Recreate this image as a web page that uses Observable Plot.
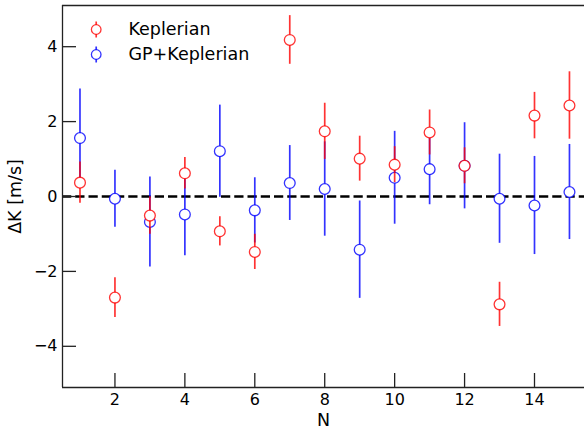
<!DOCTYPE html>
<html><head><meta charset="utf-8">
<script src="https://cdn.jsdelivr.net/npm/d3@7"></script>
<script src="https://cdn.jsdelivr.net/npm/@observablehq/plot@0.6"></script>
<style>body{margin:0;background:#fff} #chart{width:584px;height:430px}</style>
</head><body><div id="chart"></div>
<script>
const N = [1, 2, 3, 4, 5, 6, 7, 8, 9, 10, 11, 12, 13, 14, 15];
const keplerian = [0.37, -2.70, -0.51, 0.62, -0.93, -1.48, 4.18, 1.74, 1.01, 0.85, 1.71, 0.82, -2.88, 2.16, 2.43];
const keplerianErr = [0.55, 0.53, 0.50, 0.42, 0.39, 0.47, 0.65, 0.75, 0.60, 0.48, 0.60, 0.48, 0.59, 0.62, 0.90];
const gpKeplerian = [1.56, -0.06, -0.68, -0.48, 1.21, -0.37, 0.36, 0.20, -1.42, 0.50, 0.73, 0.82, -0.06, -0.24, 0.12];
const gpKeplerianErr = [1.31, 0.76, 1.20, 1.10, 1.23, 0.87, 1.00, 1.26, 1.30, 1.24, 0.95, 1.15, 1.19, 1.31, 1.27];
const seriesNames = ["Keplerian", "GP+Keplerian"];
const seriesColors = ["#ff0000", "#0000ff"];
const xTicks = [2, 4, 6, 8, 10, 12, 14];
const yTicks = [-4, -2, 0, 2, 4];
const xDomain = [0.5, 15.43];
const yDomain = [-5.1, 5.1];
const xLabel = "N";
const yLabel = "ΔK [m/s]";

const W = 584, H = 430, ML = 62, MR = 0, MT = 5, MB = 43;
const frameW = W - ML - MR, frameH = H - MT - MB;
const tickLen = 14;
const alpha = 0.8;

const rows = (vals, errs) => N.map((n, i) => ({n, v: vals[i], e: errs[i]}));
const kepRows = rows(keplerian, keplerianErr);
const gpRows = rows(gpKeplerian, gpKeplerianErr);

function seriesMarks(data, color) {
  return [
    Plot.ruleX(data, {x: "n", y1: d => d.v - d.e, y2: d => d.v + d.e, stroke: color, strokeWidth: 1.7, strokeOpacity: alpha}),
    Plot.dot(data, {x: "n", y: "v", r: 5.4, fill: "white", stroke: color, strokeWidth: 1.3, strokeOpacity: alpha})
  ];
}

const vbar = {draw(ctx) { ctx.moveTo(0, -8); ctx.lineTo(0, 8); }};
const legendMarks = seriesNames.flatMap((name, i) => [
  Plot.dot([name], {frameAnchor: "top-left", dx: 33.7, dy: 24 + 25 * i, symbol: vbar, fill: "none", stroke: seriesColors[i], strokeWidth: 1.7, strokeOpacity: alpha}),
  Plot.dot([name], {frameAnchor: "top-left", dx: 33.7, dy: 24 + 25 * i, r: 4.8, fill: "white", stroke: seriesColors[i], strokeWidth: 1.3, strokeOpacity: alpha}),
  Plot.text([name], {text: d => d, frameAnchor: "top-left", dx: 66, dy: 24 + 25 * i, textAnchor: "start", lineAnchor: "middle", fontSize: 17.5, fill: "black"})
]);

const chart = Plot.plot({
  width: W, height: H,
  marginLeft: ML, marginRight: MR, marginTop: MT, marginBottom: MB,
  style: {fontFamily: "DejaVu Sans", fontSize: "16px", color: "black", background: "white"},
  x: {domain: xDomain},
  y: {domain: yDomain},
  marks: [
    Plot.ruleY([0], {stroke: "black", strokeWidth: 2.5, strokeDasharray: "9.25,4"}),
    Plot.ruleY(yDomain, {stroke: "#222", strokeWidth: 1.3}),
    Plot.ruleX([xDomain[0]], {stroke: "#222", strokeWidth: 1.3}),
    Plot.ruleY(yTicks, {stroke: "#222", strokeWidth: 1.3, insetRight: frameW - tickLen}),
    Plot.ruleX(xTicks, {stroke: "#222", strokeWidth: 1.3, insetTop: frameH - tickLen}),
    Plot.axisX(xTicks, {tickSize: 0, tickPadding: 6, label: null, fontSize: 16}),
    Plot.axisY(yTicks, {tickSize: 0, tickPadding: 5, label: null, fontSize: 16}),
    ...seriesMarks(gpRows, seriesColors[1]),
    ...seriesMarks(kepRows, seriesColors[0]),
    ...legendMarks,
    Plot.text([yLabel], {frameAnchor: "left", dx: -47, rotate: -90, textAnchor: "middle", lineAnchor: "middle", fontSize: 17.5, fill: "black"}),
    Plot.text([xLabel], {frameAnchor: "bottom", dy: 33, textAnchor: "middle", lineAnchor: "middle", fontSize: 17.5, fill: "black"})
  ]
});
document.getElementById("chart").appendChild(chart);
</script>
</body></html>
